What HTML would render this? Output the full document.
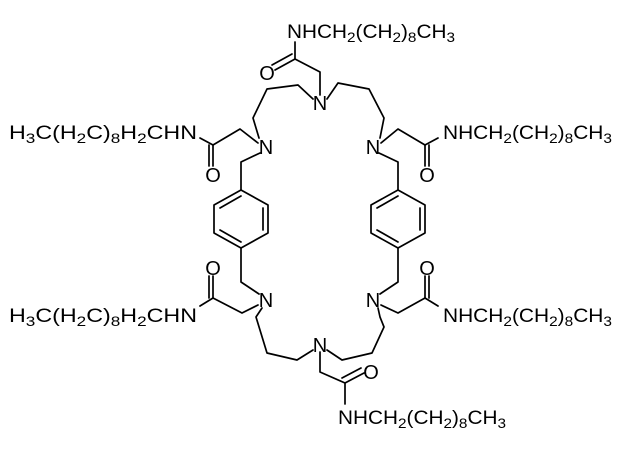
<!DOCTYPE html>
<html><head><style>body{margin:0;background:#fff}svg{display:block}</style></head><body>
<svg width="640" height="449" viewBox="0 0 640 449" xmlns="http://www.w3.org/2000/svg">
<g stroke="#000" stroke-width="1.7" fill="none" stroke-linecap="round" stroke-linejoin="round">
<path d="M295,42 L295,59 L320,72 L320,95"/>
<path d="M295,59 L275,70 M292,54 L272,65"/>
<path d="M313,99 L298,85 L267,89 L253,118 L259,138"/>
<path d="M327,99 L338,83 L369,89 L384,118 L380,138"/>
<path d="M258,143 L240,129 L213,145 L200,138"/>
<path d="M213,145 L213,166 M209,145 L209,166"/>
<path d="M260,153 L241,162 L241,190"/>
<path d="M241,190 L268,205 L268,233 L241,248 L214,233 L214,205 Z"/>
<path d="M241,196 L220,208 M263,208 L263,230 M220,230 L241,242"/>
<path d="M241,248 L241,282 L259,294"/>
<path d="M381,143 L398,129 L425,145 L438,138"/>
<path d="M425,145 L425,166 M429,145 L429,166"/>
<path d="M379,153 L398,162 L398,190"/>
<path d="M398,190 L425,205 L425,233 L398,248 L371,233 L371,205 Z"/>
<path d="M398,196 L377,208 M420,208 L420,230 M377,230 L398,242"/>
<path d="M398,248 L398,282 L380,294"/>
<path d="M258,305 L242,313 L213,298 L200,306"/>
<path d="M213,298 L213,276 M209,298 L209,276"/>
<path d="M262,308 L256,317 L267,353 L297,360 L313,350"/>
<path d="M327,350 L342,360 L372,353 L384,327 L380,317 L378,308"/>
<path d="M320,352 L320,372 L345,383 L345,404"/>
<path d="M345,383 L364,373 M342,378 L361,368"/>
<path d="M381,305 L398,313 L425,298 L438,306"/>
<path d="M425,298 L425,276 M429,298 L429,276"/>
</g>
<g font-family="Liberation Sans, sans-serif" font-size="20" fill="#000">
<text x="320" y="110" text-anchor="middle">N</text>
<text x="266" y="154" text-anchor="middle">N</text>
<text x="373" y="154" text-anchor="middle">N</text>
<text x="266" y="307" text-anchor="middle">N</text>
<text x="373" y="307" text-anchor="middle">N</text>
<text x="320" y="352" text-anchor="middle">N</text>
<text x="267" y="80" text-anchor="middle">O</text>
<text x="213" y="182" text-anchor="middle">O</text>
<text x="427" y="182" text-anchor="middle">O</text>
<text x="213" y="275" text-anchor="middle">O</text>
<text x="427" y="275" text-anchor="middle">O</text>
<text x="371" y="379" text-anchor="middle">O</text>
</g>
<g font-family="Liberation Sans, sans-serif" font-size="19" fill="#000">
<text x="287" y="38" textLength="168" lengthAdjust="spacingAndGlyphs">NHCH<tspan font-size="14" dy="4">2</tspan><tspan dy="-4">(CH</tspan><tspan font-size="14" dy="4">2</tspan><tspan dy="-4">)</tspan><tspan font-size="14" dy="4">8</tspan><tspan dy="-4">CH</tspan><tspan font-size="14" dy="4">3</tspan></text>
<text x="9" y="139" textLength="188" lengthAdjust="spacingAndGlyphs">H<tspan font-size="14" dy="4">3</tspan><tspan dy="-4">C(H</tspan><tspan font-size="14" dy="4">2</tspan><tspan dy="-4">C)</tspan><tspan font-size="14" dy="4">8</tspan><tspan dy="-4">H</tspan><tspan font-size="14" dy="4">2</tspan><tspan dy="-4">CHN</tspan></text>
<text x="443" y="139" textLength="169" lengthAdjust="spacingAndGlyphs">NHCH<tspan font-size="14" dy="4">2</tspan><tspan dy="-4">(CH</tspan><tspan font-size="14" dy="4">2</tspan><tspan dy="-4">)</tspan><tspan font-size="14" dy="4">8</tspan><tspan dy="-4">CH</tspan><tspan font-size="14" dy="4">3</tspan></text>
<text x="9" y="322" textLength="188" lengthAdjust="spacingAndGlyphs">H<tspan font-size="14" dy="4">3</tspan><tspan dy="-4">C(H</tspan><tspan font-size="14" dy="4">2</tspan><tspan dy="-4">C)</tspan><tspan font-size="14" dy="4">8</tspan><tspan dy="-4">H</tspan><tspan font-size="14" dy="4">2</tspan><tspan dy="-4">CHN</tspan></text>
<text x="443" y="322" textLength="169" lengthAdjust="spacingAndGlyphs">NHCH<tspan font-size="14" dy="4">2</tspan><tspan dy="-4">(CH</tspan><tspan font-size="14" dy="4">2</tspan><tspan dy="-4">)</tspan><tspan font-size="14" dy="4">8</tspan><tspan dy="-4">CH</tspan><tspan font-size="14" dy="4">3</tspan></text>
<text x="338" y="424" textLength="168" lengthAdjust="spacingAndGlyphs">NHCH<tspan font-size="14" dy="4">2</tspan><tspan dy="-4">(CH</tspan><tspan font-size="14" dy="4">2</tspan><tspan dy="-4">)</tspan><tspan font-size="14" dy="4">8</tspan><tspan dy="-4">CH</tspan><tspan font-size="14" dy="4">3</tspan></text>
</g>
</svg>
</body></html>
